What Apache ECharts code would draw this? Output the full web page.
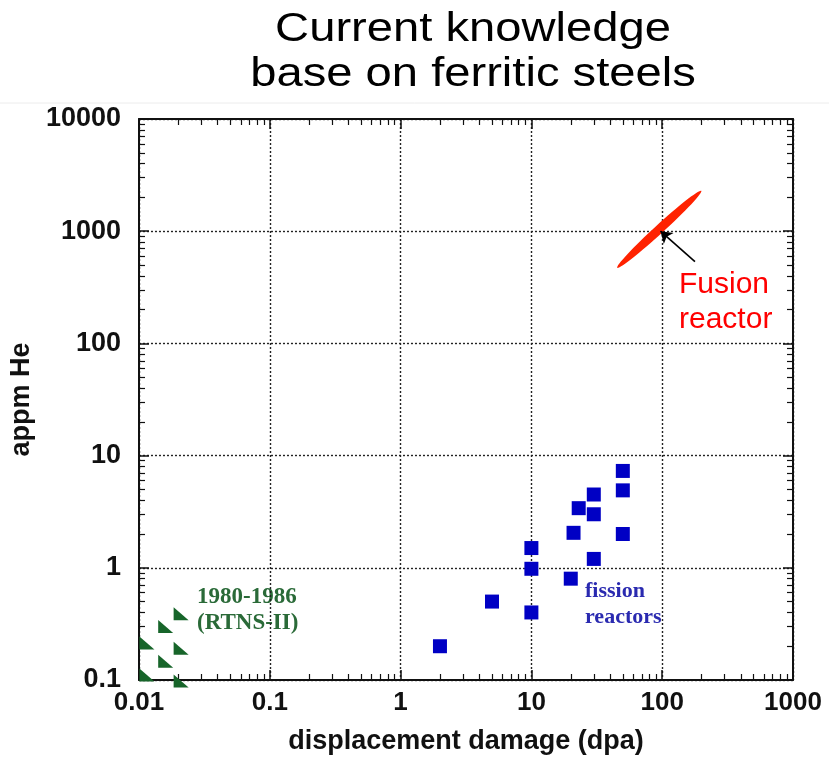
<!DOCTYPE html>
<html>
<head>
<meta charset="utf-8">
<script src="https://cdn.jsdelivr.net/npm/echarts@6/dist/echarts.min.js"></script>
<style>
html,body{margin:0;padding:0;background:#fff;}
#chart{width:829px;height:768px;}
</style>
</head>
<body>
<div id="chart"></div>
<script>
// axis ticks
var xTicks = [0.01, 0.1, 1, 10, 100, 1000];
var yTicks = [0.1, 1, 10, 100, 1000, 10000];

// fission reactors (dpa, appm He)
var fissionDpa = [2, 5, 10, 10, 10, 20, 21, 23, 30, 30, 30, 50, 50, 50];
var fissionHe  = [0.2, 0.5, 0.4, 0.98, 1.5, 0.8, 2.05, 3.4, 4.5, 3.0, 1.2, 7.3, 4.9, 2.0];

// 1980-1986 RTNS-II
var rtnsDpa = [0.0115, 0.0115, 0.016, 0.016, 0.021, 0.021, 0.021];
var rtnsHe  = [0.111, 0.214, 0.147, 0.3, 0.098, 0.192, 0.39];

// fusion reactor window and the arrow pointing at it
var fusionPoint = [95, 1040];
var arrowFrom = [178, 535];
var arrowTo = [97, 1000];

function zip(a, b){
	var out = [];
	for (var i = 0; i < a.length; i++) out.push([a[i], b[i]]);
	return out;
}

var ellipse = 'path://M0,5 C0,2.24 22.4,0 50,0 C77.6,0 100,2.24 100,5 C100,7.76 77.6,10 50,10 C22.4,10 0,7.76 0,5 Z';
var triangle = 'path://M0,0 L0,10 L11,10 Z';

var nameFont = {fontSize: 27, fontWeight: 'bold', fontFamily: 'Liberation Sans, Arial, sans-serif', color: '#111'};

function logAxis(ticks, pos, main, labelSize){
	return {
		type: 'log',
		logBase: 10,
		position: pos,
		min: ticks[0],
		max: ticks[ticks.length - 1],
		splitNumber: 5,
		axisLine: {lineStyle: {color: '#111', width: 2}},
		axisTick: {inside: true, length: 10, lineStyle: {color: '#111', width: 1.5}},
		minorTick: {show: true, splitNumber: 9, length: 6, lineStyle: {color: '#111', width: 1.2}},
		splitLine: {show: main, lineStyle: {type: [2, 2], color: '#222', width: 1.4}},
		axisLabel: main ? {
			margin: 10,
			fontSize: labelSize, fontWeight: 'bold',
			fontFamily: 'Liberation Sans, Arial, sans-serif', color: '#111',
			formatter: function(v){ return String(v); }
		} : {show: false}
	};
}

var xMain = logAxis(xTicks, 'bottom', true, 26);
xMain.name = 'displacement damage (dpa)';
xMain.nameLocation = 'middle';
xMain.nameGap = 48;
xMain.nameTextStyle = nameFont;

var yMain = logAxis(yTicks, 'left', true, 27);
yMain.axisLabel.margin = 18;
yMain.name = 'appm He';
yMain.nameLocation = 'middle';
yMain.nameGap = 102;
yMain.nameTextStyle = nameFont;

var myChart = echarts.init(document.getElementById('chart'));
var option = {
	animation: false,
	backgroundColor: '#fff',
	grid: {left: 138, right: 36, top: 119, bottom: 88},
	xAxis: [xMain, logAxis(xTicks, 'top', false)],
	yAxis: [yMain, logAxis(yTicks, 'right', false)],
	graphic: [
		{type: 'line', shape: {x1: 0, y1: 103, x2: 829, y2: 103}, style: {stroke: '#ececec', lineWidth: 1}, silent: true},
		{type: 'text', x: 473, y: 30, scaleX: 1.15, style: {text: 'Current knowledge', fontSize: 41, fontFamily: 'Liberation Sans, Arial, sans-serif', fill: '#000', align: 'center', verticalAlign: 'middle'}},
		{type: 'text', x: 473, y: 75, scaleX: 1.15, style: {text: 'base on ferritic steels', fontSize: 41, fontFamily: 'Liberation Sans, Arial, sans-serif', fill: '#000', align: 'center', verticalAlign: 'middle'}},
		{type: 'text', x: 679, y: 302, style: {text: 'Fusion\nreactor', fontSize: 30, lineHeight: 35, fontFamily: 'Liberation Sans, Arial, sans-serif', fill: '#ff0000', align: 'left', verticalAlign: 'middle'}},
		{type: 'text', x: 585, y: 604, style: {text: 'fission\nreactors', fontSize: 22, lineHeight: 26, fontWeight: 'bold', fontFamily: 'Liberation Serif, serif', fill: '#2a2ab0', align: 'left', verticalAlign: 'middle'}},
		{type: 'text', x: 197, y: 610, style: {text: '1980-1986\n(RTNS-II)', fontSize: 23, lineHeight: 26, fontWeight: 'bold', fontFamily: 'Liberation Serif, serif', fill: '#2a6a38', align: 'left', verticalAlign: 'middle'}}
	],
	series: [
		{
			name: 'fission reactors',
			type: 'scatter',
			symbol: 'rect',
			symbolSize: 14,
			itemStyle: {color: '#0000c4', opacity: 1},
			data: zip(fissionDpa, fissionHe)
		},
		{
			name: 'RTNS-II',
			type: 'scatter',
			symbol: triangle,
			symbolSize: [15, 13],
			clip: false,
			itemStyle: {color: '#17652a', opacity: 1},
			data: zip(rtnsDpa, rtnsHe)
		},
		{
			name: 'Fusion reactor',
			type: 'scatter',
			symbol: ellipse,
			symbolSize: [114, 9],
			symbolRotate: 42.5,
			itemStyle: {color: '#ff2200', opacity: 1},
			data: [fusionPoint],
			markLine: {
				silent: true,
				symbol: ['none', 'arrow'],
				symbolSize: 11,
				label: {show: false},
				lineStyle: {color: '#000', width: 1.6, type: 'solid'},
				data: [[{coord: arrowFrom}, {coord: arrowTo}]]
			}
		}
	]
};
myChart.setOption(option);
</script>
</body>
</html>
